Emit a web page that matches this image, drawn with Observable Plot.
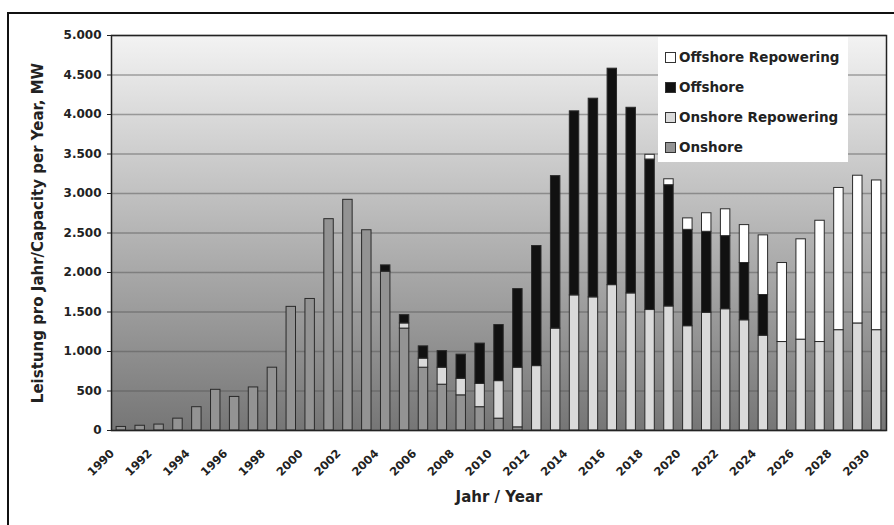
<!DOCTYPE html>
<html><head><meta charset="utf-8">
<script src="https://cdn.jsdelivr.net/npm/d3@7"></script>
<script src="https://cdn.jsdelivr.net/npm/@observablehq/plot@0.6"></script>
<style>
body{margin:0;background:#fff;}
#wrap{position:relative;width:894px;height:525px;overflow:hidden;font-family:"DejaVu Sans",sans-serif;}
#frame{position:absolute;left:7px;top:12px;width:1000px;height:1000px;border-left:2px solid #111;border-top:2px solid #111;pointer-events:none;}
#legend{position:absolute;left:658px;top:37px;width:190px;height:125px;background:#fff;}
.item{position:absolute;left:7px;height:16px;line-height:16px;font-weight:bold;font-size:13.5px;color:#222;white-space:nowrap;}
.sw{display:inline-block;width:9px;height:9px;border:1px solid #333;margin-right:3px;vertical-align:-1px;}
</style></head>
<body><div id="wrap"><div id="frame"></div></div>
<script>
const years = [1990,1991,1992,1993,1994,1995,1996,1997,1998,1999,2000,2001,2002,2003,2004,2005,2006,2007,2008,2009,2010,2011,2012,2013,2014,2015,2016,2017,2018,2019,2020,2021,2022,2023,2024,2025,2026,2027,2028,2029,2030];
const onshore = [45,60,75,150,295,515,425,545,795,1565,1665,2675,2920,2535,2010,1290,795,580,445,295,150,40,0,0,0,0,0,0,0,0,0,0,0,0,0,0,0,0,0,0,0];
const onshoreRepowering = [0,0,0,0,0,0,0,0,0,0,0,0,0,0,0,65,115,215,210,295,475,755,815,1290,1710,1685,1840,1735,1525,1570,1320,1490,1535,1395,1200,1120,1150,1120,1270,1355,1270];
const offshore = [0,0,0,0,0,0,0,0,0,0,0,0,0,0,80,105,155,210,305,510,710,995,1520,1930,2330,2515,2740,2350,1905,1535,1220,1025,925,725,515,0,0,0,0,0,0];
const offshoreRepowering = [0,0,0,0,0,0,0,0,0,0,0,0,0,0,0,0,0,0,0,0,0,0,0,0,0,0,0,0,60,75,145,235,340,480,755,1000,1270,1535,1800,1870,1895];
const seriesNames = ["Onshore","Onshore Repowering","Offshore","Offshore Repowering"];
const seriesColors = ["#939393","#dadada","#111111","#ffffff"];
const legendOrder = ["Offshore Repowering","Offshore","Onshore Repowering","Onshore"];
const yTicks = [0,500,1000,1500,2000,2500,3000,3500,4000,4500,5000];
const xTickYears = years.filter(y => y % 2 === 0);
const yLabel = "Leistung pro Jahr/Capacity per Year, MW";
const xLabel = "Jahr / Year";

const seriesValues = [onshore, onshoreRepowering, offshore, offshoreRepowering];
const rows = [];
seriesNames.forEach((s, si) => years.forEach((yr, i) => rows.push({year: yr, series: s, value: seriesValues[si][i]})));

const de = d3.formatLocale({decimal: ",", thousands: ".", grouping: [3], currency: ["", " €"]});
const fmt = de.format(",");

function background(index, scales, values, dim) {
  const {width, height, marginLeft, marginRight, marginTop, marginBottom} = dim;
  const g = d3.create("svg:g");
  const lg = g.append("defs").append("linearGradient").attr("id", "bgGrad")
    .attr("x1", 0).attr("y1", 0).attr("x2", 0).attr("y2", 1);
  lg.append("stop").attr("offset", "0%").attr("stop-color", "#f3f3f3");
  lg.append("stop").attr("offset", "100%").attr("stop-color", "#767676");
  g.append("rect").attr("x", marginLeft).attr("y", marginTop)
    .attr("width", width - marginLeft - marginRight).attr("height", height - marginTop - marginBottom)
    .attr("fill", "url(#bgGrad)");
  return g.node();
}

const chart = Plot.plot({
  width: 894, height: 525,
  marginLeft: 111, marginRight: 8, marginTop: 35, marginBottom: 95,
  style: {fontFamily: "DejaVu Sans, sans-serif", background: "transparent", color: "#222"},
  x: {type: "band", domain: years, paddingInner: 0.5, paddingOuter: 0.27},
  y: {domain: [0, 5000]},
  color: {domain: seriesNames, range: seriesColors},
  marks: [
    background,
    Plot.gridY(yTicks, {stroke: "#555", strokeOpacity: 0.5, strokeWidth: 1.5}),
    Plot.barY(rows, {x: "year", y: "value", fill: "series", stroke: "#2a2a2a", strokeWidth: 1, order: seriesNames}),
    Plot.frame({stroke: "#222", strokeWidth: 1.5}),
    Plot.axisY({ticks: yTicks, tickFormat: fmt, tickSize: 4, tickPadding: 6, fontSize: 12, fontWeight: "bold", label: null}),
    Plot.axisX({ticks: xTickYears, tickFormat: d => String(d), tickRotate: -45, tickSize: 0, tickPadding: 8, dx: -9, dy: 13, fontSize: 11.5, fontWeight: "bold", label: null}),
    Plot.text([yLabel], {frameAnchor: "left", rotate: -90, dx: -73, textAnchor: "middle", fontSize: 15, fontWeight: "bold", lineAnchor: "middle", fill: "#222"}),
    Plot.text([xLabel], {frameAnchor: "bottom", dy: 67, fontSize: 15, fontWeight: "bold", lineAnchor: "middle", fill: "#222"})
  ]
});
const wrap = document.getElementById("wrap");
wrap.insertBefore(chart, wrap.firstChild);

const legend = document.createElement("div");
legend.id = "legend";
legendOrder.forEach((name, i) => {
  const it = document.createElement("div");
  it.className = "item";
  it.style.top = (12 + i * 30) + "px";
  const sw = document.createElement("span");
  sw.className = "sw";
  sw.style.background = seriesColors[seriesNames.indexOf(name)];
  it.appendChild(sw);
  it.appendChild(document.createTextNode(name));
  legend.appendChild(it);
});
wrap.appendChild(legend);
</script>
</body></html>
